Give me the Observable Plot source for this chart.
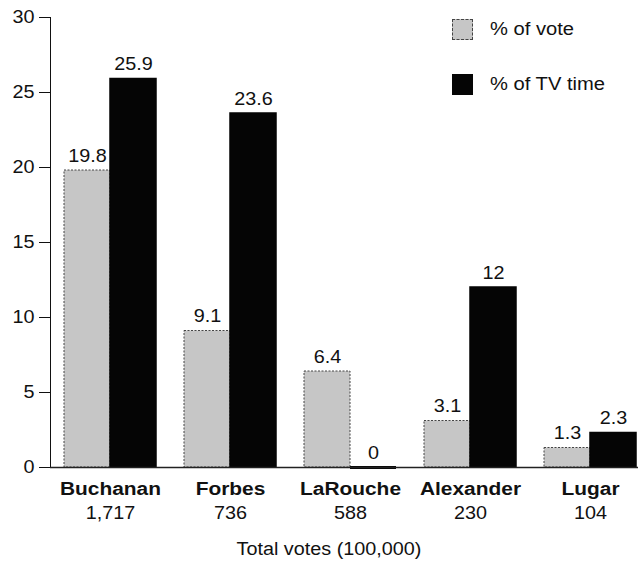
<!DOCTYPE html>
<html>
<head>
<meta charset="utf-8">
<script src="https://cdn.jsdelivr.net/npm/d3@7"></script>
<script src="https://cdn.jsdelivr.net/npm/@observablehq/plot@0.6"></script>
<style>
  html, body { margin: 0; padding: 0; background: #fff; }
  #chart { position: relative; width: 638px; height: 565px; font-family: "Liberation Sans", Arial, sans-serif; color: #111; }
  .legend { position: absolute; left: 452px; top: 18px; font-size: 18px; }
  .legend .item { position: relative; height: 22px; margin-bottom: 33px; display: flex; align-items: center; }
  .legend .swatch { width: 21px; height: 21px; margin-right: 17px; box-sizing: border-box; flex: none; }
  .legend .label { display: inline-block; transform: scaleX(1.12); transform-origin: left center; white-space: nowrap; }
  .legend .vote { background: #c6c6c6; border: 1px dashed #444; }
  .legend .tv { background: #050505; }
  .xtitle { position: absolute; left: 0; width: 658px; top: 539px; text-align: center; font-size: 18px; transform: scaleX(1.1); transform-origin: 329px 0; }
</style>
</head>
<body>
<div id="chart"></div>
<script>
// Candidates in the 1996 New Hampshire primary coverage comparison
const candidates = ["Buchanan", "Forbes", "LaRouche", "Alexander", "Lugar"];
const totalVotes = ["1,717", "736", "588", "230", "104"];
const voteShare = [19.8, 9.1, 6.4, 3.1, 1.3];
const tvShare = [25.9, 23.6, 0, 12, 2.3];
const seriesKeys = ["vote", "tv"];
const seriesNames = ["% of vote", "% of TV time"];
const yTicks = [0, 5, 10, 15, 20, 25, 30];
const xTitle = "Total votes (100,000)";

const rows = candidates.flatMap((c, i) => [
  {candidate: c, series: "vote", value: voteShare[i], votes: totalVotes[i]},
  {candidate: c, series: "tv", value: tvShare[i], votes: totalVotes[i]}
]);
const labelRows = rows.filter(d => d.series === "vote");

const plot = Plot.plot({
  width: 638,
  height: 565,
  marginTop: 17,
  marginBottom: 98,
  marginLeft: 49,
  marginRight: 0,
  style: {fontFamily: "'Liberation Sans', Arial, sans-serif", fontSize: "18px", color: "#111", background: "transparent", overflow: "visible"},
  fx: {domain: candidates, range: [50, 650], paddingInner: 0, paddingOuter: 0, axis: null, label: null},
  x: {domain: seriesKeys, paddingInner: 0, paddingOuter: 0.28, axis: null},
  y: {domain: [0, 30], ticks: yTicks, tickSize: 11, tickPadding: 5, label: null, line: true},
  marks: [
    Plot.barY(rows.filter(d => d.series === "vote"), {
      fx: "candidate", x: "series", y: "value",
      fill: "#c6c6c6", stroke: "#444", strokeWidth: 1, strokeDasharray: "2,1.5"
    }),
    Plot.barY(rows.filter(d => d.series === "tv"), {
      fx: "candidate", x: "series", y: "value",
      fill: "#050505", stroke: "#050505", strokeWidth: 1.5
    }),
    // a zero-height bar still shows as a heavy line on the baseline
    Plot.tickY(rows.filter(d => d.series === "tv" && d.value === 0), {
      fx: "candidate", x: "series", y: "value", stroke: "#050505", strokeWidth: 3
    }),
    Plot.ruleY([0], {stroke: "#222", strokeWidth: 1.5}),
    Plot.text(rows, {
      fx: "candidate", x: "series", y: "value", text: d => String(d.value),
      lineAnchor: "bottom", dy: -9, fontSize: 18, fill: "#111"
    }),
    Plot.text(labelRows, {
      fx: "candidate", text: "candidate", frameAnchor: "bottom",
      dy: 27, fontSize: 19, fontWeight: "bold", fill: "#111"
    }),
    Plot.text(labelRows, {
      fx: "candidate", text: "votes", frameAnchor: "bottom",
      dy: 51, fontSize: 18, fill: "#111"
    })
  ]
});

// widen the lettering slightly, keeping each label anchored in place
const STRETCH = 1.1;
plot.querySelectorAll("text").forEach(t => {
  const x = +(t.getAttribute("x") || 0);
  if (x) t.setAttribute("x", x / STRETCH);
  const tr = t.getAttribute("transform") || "";
  t.setAttribute("transform", (tr + ` scale(${STRETCH},1)`).trim());
});

const chart = document.getElementById("chart");
chart.appendChild(plot);

// x-axis title under the candidate labels
const title = document.createElement("div");
title.className = "xtitle";
title.textContent = xTitle;
chart.appendChild(title);

// legend in the upper right of the plot area
const legend = document.createElement("div");
legend.className = "legend";
seriesKeys.forEach((k, i) => {
  const item = document.createElement("div");
  item.className = "item";
  const sw = document.createElement("span");
  sw.className = "swatch " + k;
  const lab = document.createElement("span");
  lab.className = "label";
  lab.textContent = seriesNames[i];
  item.append(sw, lab);
  legend.appendChild(item);
});
chart.appendChild(legend);
</script>
</body>
</html>
